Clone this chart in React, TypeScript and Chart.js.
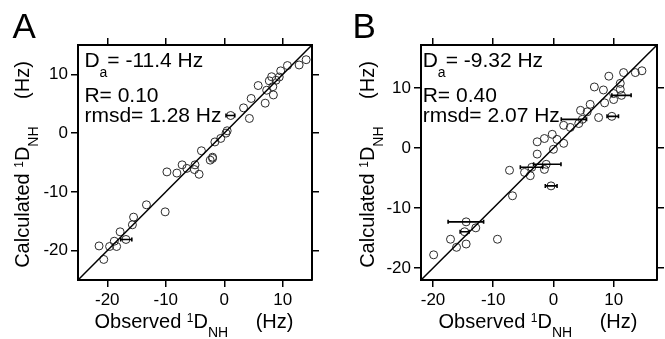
import React, { useEffect, useRef } from 'react';
import { Chart, registerables } from 'chart.js';

Chart.register(...registerables);

const FONT = '"Liberation Sans", Arial, Helvetica, sans-serif';

// ---------- Panel A data ----------
const obsA = [14.0, 12.8, 10.8, 9.65, 8.1, 9.4, 7.7, 8.85, 8.3, 7.25, 5.8, 8.4, 7.0, 4.6, 3.3, 4.3, 1.1, 0.5, 0.3, -0.6, -1.6, -2.0, -3.9, -2.0, -2.4, -5.0, -6.4, -7.2, -8.1, -4.3, -5.1, -9.8, -13.3, -10.1, -15.5, -15.7, -17.8, -16.8, -18.8, -19.6, -21.4, -18.4, -20.6];
const calcA = [12.5, 11.6, 11.5, 10.6, 9.6, 9.55, 8.9, 9.0, 7.9, 7.3, 8.1, 6.5, 5.1, 5.9, 4.3, 2.5, 3.0, 0.4, 0.0, -0.9, -1.5, -4.3, -3.0, -4.1, -4.6, -5.4, -6.0, -5.4, -6.8, -7.0, -6.2, -6.6, -12.2, -13.4, -14.3, -15.6, -16.8, -18.1, -18.4, -19.3, -19.2, -19.3, -21.5];
const errObsA = [1.1, -16.8];
const errCalcA = [3.0, -18.1];
const errLowA = [0.3, -17.7];
const errHighA = [1.8, -15.8];
const ticksA = [-20, -10, 0, 10];
const minA = -25;
const maxA = 15;
const daA = '-11.4';
const rA = '0.10';
const rmsdA = '1.28';

// ---------- Panel B data ----------
const obsB = [14.7, 13.6, 11.65, 9.2, 11.1, 8.3, 6.8, 11.1, 10.0, 11.3, 10.0, 8.5, 6.1, 4.5, 7.5, 9.7, 5.6, 4.8, 4.2, 1.7, 2.8, -0.2, -1.5, -2.7, 1.7, 0.6, -2.7, 0.0, -1.2, -3.6, -1.5, -7.3, -4.8, -3.85, -0.4, -6.8, -14.5, -12.9, -14.75, -9.3, -17.1, -14.5, -16.1, -19.9];
const calcB = [12.9, 12.6, 12.6, 12.0, 10.8, 9.7, 10.2, 9.8, 9.1, 8.8, 8.1, 7.55, 7.3, 6.3, 5.1, 5.3, 6.05, 4.8, 4.1, 3.8, 3.45, 2.3, 1.6, 1.05, 0.8, 1.45, -1.0, -0.2, -2.7, -3.2, -3.55, -3.7, -4.05, -4.6, -6.3, -7.95, -12.3, -13.3, -13.95, -15.2, -15.2, -16.0, -16.55, -17.8];
const errObsB = [11.3, 9.7, 4.8, -1.2, -3.6, -0.4, -14.5, -14.75];
const errCalcB = [8.8, 5.3, 4.8, -2.7, -3.2, -6.3, -12.3, -13.95];
const errLowB = [9.7, 8.9, 1.3, -3.3, -5.5, -1.35, -17.5, -15.5];
const errHighB = [12.9, 10.8, 5.5, 1.25, -1.8, 0.6, -11.6, -14.0];
const ticksB = [-20, -10, 0, 10];
const minB = -22;
const maxB = 17.2;
const daB = '-9.32';
const rB = '0.40';
const rmsdB = '2.07';

type Seg = { t: string; size: number; dy?: number; pad?: number };

function richWidth(ctx: CanvasRenderingContext2D, segs: Seg[]) {
  let w = 0;
  for (const s of segs) {
    ctx.font = `${s.size}px ${FONT}`;
    w += (s.pad || 0) + ctx.measureText(s.t).width;
  }
  return w;
}

function drawRich(ctx: CanvasRenderingContext2D, segs: Seg[], x: number, y: number, align: 'left' | 'center', angle = 0) {
  ctx.save();
  ctx.translate(x, y);
  if (angle) ctx.rotate(angle);
  const w = richWidth(ctx, segs);
  let cx = align === 'center' ? -w / 2 : 0;
  ctx.textAlign = 'left';
  ctx.textBaseline = 'alphabetic';
  ctx.fillStyle = '#000';
  for (const s of segs) {
    cx += s.pad || 0;
    ctx.font = `${s.size}px ${FONT}`;
    ctx.fillText(s.t, cx, s.dy || 0);
    cx += ctx.measureText(s.t).width;
  }
  ctx.restore();
}

function titleSegs(word: string): Seg[] {
  return [
    { t: word + ' ', size: 20 },
    { t: '1', size: 12, dy: -6 },
    { t: 'D', size: 20 },
    { t: 'NH', size: 14, dy: 9 },
    { t: '(Hz)', size: 20, pad: 27.5 },
  ];
}

interface PanelCfg {
  letter: string;
  obs: number[];
  calc: number[];
  errObs: number[];
  errCalc: number[];
  errLow: number[];
  errHigh: number[];
  min: number;
  max: number;
  ticks: number[];
  da: string;
  r: string;
  rmsd: string;
  left: number;
  width: number;
  leftW: number;
  rightW: number;
  letterX: number;
  letterY: number;
  textX: number;
  yTitleX: number;
}

function makeScale(cfg: PanelCfg, position: string, labels: boolean, size: number) {
  return {
    type: 'linear',
    position,
    min: cfg.min,
    max: cfg.max,
    afterBuildTicks: (s: any) => {
      s.ticks = cfg.ticks.map((v) => ({ value: v }));
    },
    afterFit: (s: any) => {
      if (position === 'top' || position === 'bottom') s.height = size;
      else s.width = size;
    },
    ticks: {
      display: labels,
      autoSkip: false,
      maxRotation: 0,
      padding: 3,
      color: '#000',
      font: { family: FONT, size: 17 },
      callback: (v: any) => String(v),
    },
    grid: {
      display: true,
      drawOnChartArea: false,
      drawTicks: true,
      tickLength: 7,
      tickWidth: 1.5,
      tickColor: '#000',
      color: '#000',
      lineWidth: 1.5,
    },
    border: { display: true, color: '#000', width: 2 },
    title: { display: false },
  };
}

function Panel({ cfg }: { cfg: PanelCfg }) {
  const ref = useRef<HTMLCanvasElement | null>(null);
  useEffect(() => {
    if (!ref.current) return;
    const H = 339;
    const textPlugin = {
      id: 'panelText' + cfg.letter,
      afterDatasetsDraw(chart: any) {
        const ctx: CanvasRenderingContext2D = chart.ctx;
        const xs = chart.scales.x;
        const ys = chart.scales.y;
        // error bars
        ctx.save();
        ctx.strokeStyle = '#000';
        ctx.lineWidth = 1.6;
        for (let i = 0; i < cfg.errObs.length; i++) {
          const py = ys.getPixelForValue(cfg.errCalc[i]);
          const x1 = xs.getPixelForValue(cfg.errLow[i]);
          const x2 = xs.getPixelForValue(cfg.errHigh[i]);
          ctx.beginPath();
          ctx.moveTo(x1, py);
          ctx.lineTo(x2, py);
          ctx.moveTo(x1, py - 2);
          ctx.lineTo(x1, py + 2);
          ctx.moveTo(x2, py - 2);
          ctx.lineTo(x2, py + 2);
          ctx.stroke();
        }
        ctx.restore();
      },
      afterDraw(chart: any) {
        const ctx: CanvasRenderingContext2D = chart.ctx;
        const area = chart.chartArea;
        // panel letter
        ctx.save();
        ctx.fillStyle = '#000';
        ctx.font = `35px ${FONT}`;
        ctx.textAlign = 'left';
        ctx.textBaseline = 'alphabetic';
        ctx.fillText(cfg.letter, cfg.letterX, cfg.letterY);
        ctx.restore();
        // stats
        drawRich(ctx, [
          { t: 'D', size: 21 },
          { t: 'a', size: 14, dy: 10 },
          { t: '= ' + cfg.da + ' Hz', size: 21 },
        ], cfg.textX, 66.7, 'left');
        drawRich(ctx, [{ t: 'R= ' + cfg.r, size: 21 }], cfg.textX, 101.7, 'left');
        drawRich(ctx, [{ t: 'rmsd= ' + cfg.rmsd + ' Hz', size: 21 }], cfg.textX, 121.7, 'left');
        // axis titles
        const cxm = (area.left + area.right) / 2 - 1;
        drawRich(ctx, titleSegs('Observed'), cxm, 327.7, 'center');
        const cym = (area.top + area.bottom) / 2 + 2;
        drawRich(ctx, titleSegs('Calculated'), cfg.yTitleX, cym, 'center', -Math.PI / 2);
      },
    };
    const pts = cfg.obs.map((x, i) => ({ x, y: cfg.calc[i] }));
    const chart = new Chart(ref.current, {
      type: 'scatter',
      data: {
        datasets: [
          {
            data: [{ x: cfg.min, y: cfg.min }, { x: cfg.max, y: cfg.max }],
            showLine: true,
            borderColor: '#000',
            borderWidth: 1.5,
            pointRadius: 0,
            fill: false,
          } as any,
          {
            data: pts,
            pointRadius: 4,
            pointBorderWidth: 1,
            borderColor: '#2a2a2a',
            backgroundColor: 'rgba(0,0,0,0)',
            pointBackgroundColor: 'rgba(0,0,0,0)',
            pointBorderColor: '#2a2a2a',
          } as any,
        ],
      },
      options: {
        responsive: false,
        animation: false,
        devicePixelRatio: 1,
        layout: { padding: 0 },
        plugins: { legend: { display: false }, tooltip: { enabled: false } },
        scales: {
          x: makeScale(cfg, 'bottom', true, H - 280),
          y: makeScale(cfg, 'left', true, cfg.leftW),
          x2: makeScale(cfg, 'top', false, 45),
          y2: makeScale(cfg, 'right', false, cfg.rightW),
        } as any,
      },
      plugins: [textPlugin],
    } as any);
    return () => chart.destroy();
  }, [cfg]);
  return (
    <canvas
      ref={ref}
      width={cfg.width}
      height={339}
      style={{ position: 'absolute', left: cfg.left, top: 0, width: cfg.width, height: 339 }}
    />
  );
}

const cfgA: PanelCfg = {
  letter: 'A', obs: obsA, calc: calcA, errObs: errObsA, errCalc: errCalcA, errLow: errLowA, errHigh: errHighA,
  min: minA, max: maxA, ticks: ticksA, da: daA, r: rA, rmsd: rmsdA,
  left: 0, width: 333, leftW: 78, rightW: 21, letterX: 12.5, letterY: 38.3, textX: 84.4, yTitleX: 28.5,
};
const cfgB: PanelCfg = {
  letter: 'B', obs: obsB, calc: calcB, errObs: errObsB, errCalc: errCalcB, errLow: errLowB, errHigh: errHighB,
  min: minB, max: maxB, ticks: ticksB, da: daB, r: rB, rmsd: rmsdB,
  left: 333, width: 332, leftW: 88, rightW: 8, letterX: 19.4, letterY: 37.7, textX: 89.7, yTitleX: 41,
};

export default function App() {
  return (
    <div style={{ position: 'fixed', left: 0, top: 0, width: 665, height: 339, background: '#fff', overflow: 'hidden' }}>
      <Panel cfg={cfgA} />
      <Panel cfg={cfgB} />
    </div>
  );
}
